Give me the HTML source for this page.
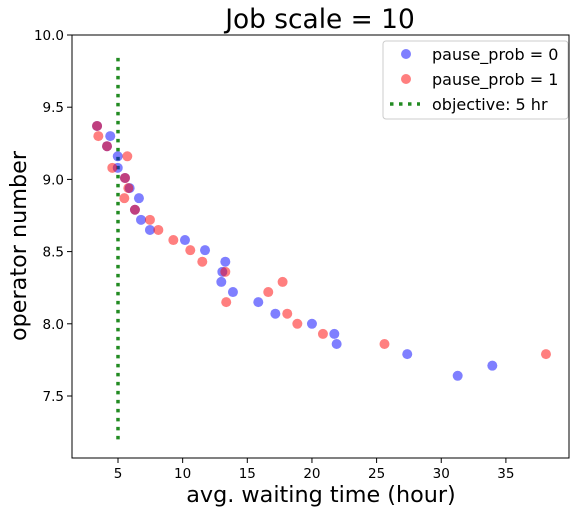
<!DOCTYPE html>
<html><head><meta charset="utf-8"><style>
body{margin:0;background:#fff;}
svg text{font-family:"DejaVu Sans","Liberation Sans",sans-serif;fill:#000;}
</style></head><body>
<svg id="chart" width="576" height="514" xmlns="http://www.w3.org/2000/svg">
<rect width="576" height="514" fill="#fff"/>
<text x="320" y="28" font-size="26.4" text-anchor="middle">Job scale = 10</text>
<g id="plot"></g>
<text x="321" y="502" font-size="22.3" text-anchor="middle">avg. waiting time (hour)</text>
<text transform="translate(26,246) rotate(-90)" font-size="22.3" text-anchor="middle">operator number</text>
</svg>
<script>
const blueX=[3.38,4.40,4.15,4.98,4.98,5.54,5.90,6.62,6.31,6.78,7.47,10.18,11.73,13.30,13.07,12.99,13.89,15.85,17.17,20.0,21.73,21.91,27.37,31.27,33.95];
const blueY=[9.37,9.30,9.23,9.16,9.08,9.01,8.94,8.87,8.79,8.72,8.65,8.58,8.51,8.43,8.36,8.29,8.22,8.15,8.07,8.0,7.93,7.86,7.79,7.64,7.71];
const redX=[3.38,3.48,4.15,5.72,4.56,5.54,5.80,5.49,6.31,7.47,8.12,9.28,10.59,11.52,13.30,13.37,16.62,17.73,18.09,18.87,20.85,25.61,38.1];
const redY=[9.37,9.30,9.23,9.16,9.08,9.01,8.94,8.87,8.79,8.72,8.65,8.58,8.51,8.43,8.36,8.15,8.22,8.29,8.07,8.0,7.93,7.86,7.79];
const xTicks=[5,10,15,20,25,30,35];
const yTicks=[7.5,8.0,8.5,9.0,9.5,10.0];
const objX=[5];
const objY=[7.2,9.85];
const NS="http://www.w3.org/2000/svg";
const L=72,R=569,T=35,B=458;
function sx(v){return 118+(v-5)*12.93;}
function sy(v){return 35+(10-v)*144.4;}
const g=document.getElementById('plot');
function mk(t,a){const e=document.createElementNS(NS,t);for(const k in a)e.setAttribute(k,a[k]);g.appendChild(e);return e;}
xTicks.forEach(v=>{
 const l=mk('line',{x1:sx(v),x2:sx(v),y1:B,y2:B+5,stroke:'#000'});
 
 
 const t=mk('text',{x:sx(v),y:B+20,'font-size':13.5,'text-anchor':'middle'});t.textContent=v;
 
 
});
yTicks.forEach(v=>{
 const l=mk('line',{x1:L-5,x2:L,y1:sy(v),y2:sy(v),stroke:'#000'});
 
 
 const t=mk('text',{x:L-8,y:sy(v)+5,'font-size':13.5,'text-anchor':'end'});t.textContent=v.toFixed(1);
 
 
});
const ol=mk('line',{x1:sx(objX[0]),x2:sx(objX[0]),y1:sy(objY[0]),y2:sy(objY[1]),stroke:'#228B22','stroke-width':3.5,'stroke-dasharray':'3.5 5.5'});


blueX.forEach((x,i)=>{
 const c=mk('circle',{cx:sx(x),cy:sy(blueY[i]),r:5,fill:'blue','fill-opacity':0.5});
 
 
});
redX.forEach((x,i)=>{
 const c=mk('circle',{cx:sx(x),cy:sy(redY[i]),r:5,fill:'red','fill-opacity':0.5});
 
 
});
const fr=mk('rect',{x:L,y:T,width:R-L,height:B-T,fill:'none',stroke:'#000','stroke-width':1});


const lg=mk('rect',{x:383,y:41,width:185,height:78,rx:3,fill:'#fff','fill-opacity':0.8,stroke:'#ccc'});


const items=[['blue','pause_prob = 0'],['red','pause_prob = 1'],['line','objective: 5 hr']];
items.forEach((it,i)=>{
 const y=54+i*25;
 if(it[0]==='line'){
  const l=mk('line',{x1:390,x2:420,y1:y,y2:y,stroke:'#228B22','stroke-width':3.5,'stroke-dasharray':'3.5 5.5'});
  
  
 } else {
  const c=mk('circle',{cx:406,cy:y,r:5,fill:it[0],'fill-opacity':0.5});
  
  
 }
 const t=mk('text',{x:432,y:y+6,'font-size':16});t.textContent=it[1];
 
 
});
</script>
</body></html>
